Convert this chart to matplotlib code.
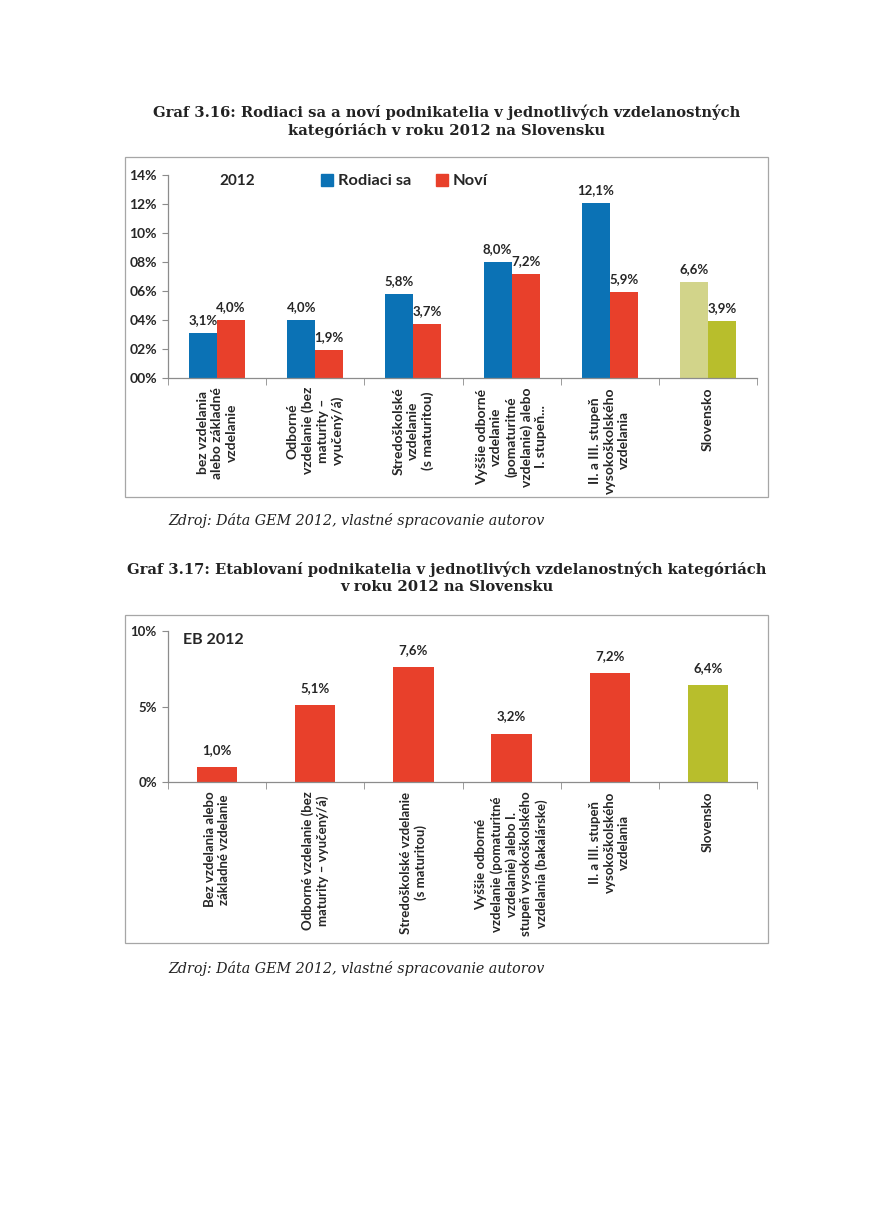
import matplotlib
matplotlib.use("Agg")
import matplotlib.pyplot as plt
from matplotlib.patches import Rectangle, Patch
import numpy as np

# === Dados ===
kategorie_1 = [
    "bez vzdelania\nalebo základné\nvzdelanie",
    "Odborné\nvzdelanie (bez\nmaturity –\nvyučený/á)",
    "Stredoškolské\nvzdelanie\n(s maturitou)",
    "Vyššie odborné\nvzdelanie\n(pomaturitné\nvzdelanie) alebo\nI. stupeň...",
    "II. a III. stupeň\nvysokoškolského\nvzdelania",
    "Slovensko",
]
rodiaci = [3.1, 4.0, 5.8, 8.0, 12.1, 6.6]
novi = [4.0, 1.9, 3.7, 7.2, 5.9, 3.9]
y_ticks_1 = [0, 2, 4, 6, 8, 10, 12, 14]
y_labels_1 = ["00%", "02%", "04%", "06%", "08%", "10%", "12%", "14%"]

kategorie_2 = [
    "Bez vzdelania alebo\nzákladné vzdelanie",
    "Odborné vzdelanie (bez\nmaturity – vyučený/á)",
    "Stredoškolské vzdelanie\n(s maturitou)",
    "Vyššie odborné\nvzdelanie (pomaturitné\nvzdelanie) alebo I.\nstupeň vysokoškolského\nvzdelania (bakalárske)",
    "II. a III. stupeň\nvysokoškolského\nvzdelania",
    "Slovensko",
]
etablovani = [1.0, 5.1, 7.6, 3.2, 7.2, 6.4]
y_ticks_2 = [0, 5, 10]
y_labels_2 = ["0%", "5%", "10%"]

# === Estilos ===
MODRA = "#0B72B5"
CERVENA = "#E8402B"
ZELENA_SV = "#D2D48A"
ZELENA_TM = "#B8BE2C"
OS = "#8C8C8C"
TEXT = "#262626"
SANS = "Lato"
SERIF = "DejaVu Serif"

W, H = 871, 1231
fig = plt.figure(figsize=(W / 100, H / 100), dpi=100)


def fx(px):
    return px / W


def fy(py):
    return 1 - py / H


def ram(x0, y0, x1, y1):
    fig.patches.append(Rectangle((fx(x0), fy(y1)), fx(x1 - x0), (y1 - y0) / H,
                                 transform=fig.transFigure, fill=False,
                                 ec="#A6A6A6", lw=0.9))


def styl_osi(ax, yt, yl, kategorie, xsize, ysize, pad):
    for s in ["top", "right"]:
        ax.spines[s].set_visible(False)
    for s in ["left", "bottom"]:
        ax.spines[s].set_color(OS)
        ax.spines[s].set_linewidth(0.9)
    ax.set_xlim(-0.5, len(kategorie) - 0.5)
    ax.set_yticks(yt)
    ax.set_yticklabels(yl, fontsize=ysize, fontweight="bold", color=TEXT, family=SANS)
    ax.tick_params(axis="y", length=4, color=OS, pad=4)
    ax.set_xticks(np.arange(len(kategorie)))
    ax.set_xticklabels(kategorie, rotation=90, ha="center", va="top",
                       multialignment="center", fontsize=xsize, fontweight="bold",
                       color=TEXT, family=SANS, linespacing=1.25)
    ax.tick_params(axis="x", length=0, pad=pad)
    ax.set_xticks(np.arange(len(kategorie) + 1) - 0.5, minor=True)
    ax.tick_params(axis="x", which="minor", length=5, color=OS)
    ax.set_facecolor("none")


# === Graf 3.16 ===
fig.text(fx(447), fy(112), "Graf 3.16: Rodiaci sa a noví podnikatelia v jednotlivých vzdelanostných",
         ha="center", va="center", fontsize=10.6, fontweight="bold", family=SERIF, color="#222222")
fig.text(fx(447), fy(130), "kategóriách v roku 2012 na Slovensku",
         ha="center", va="center", fontsize=10.6, fontweight="bold", family=SERIF, color="#222222")
ram(125, 157, 768, 497)

ax1 = fig.add_axes([fx(168), fy(378), fx(757 - 168), (378 - 175) / H])
x = np.arange(len(kategorie_1))
w = 0.285
farby_r = [MODRA] * 5 + [ZELENA_SV]
farby_n = [CERVENA] * 5 + [ZELENA_TM]
b1 = ax1.bar(x - w / 2, rodiaci, w, color=farby_r)
b2 = ax1.bar(x + w / 2, novi, w, color=farby_n)
ax1.set_ylim(0, 14)
styl_osi(ax1, y_ticks_1, y_labels_1, kategorie_1, 10, 10, 6.5)
for bars, vals in [(b1, rodiaci), (b2, novi)]:
    for b, v in zip(bars, vals):
        ax1.annotate(f"{v:.1f}%".replace(".", ","), (b.get_x() + b.get_width() / 2, v),
                     xytext=(0, 5), textcoords="offset points", ha="center", va="bottom",
                     fontsize=9.5, fontweight="bold", color=TEXT, family=SANS)

fig.text(fx(237), fy(181), "2012", ha="center", va="center", fontsize=11,
         fontweight="bold", color=TEXT, family=SANS)
handles = [Patch(color=MODRA, label="Rodiaci sa"), Patch(color=CERVENA, label="Noví")]
leg = fig.legend(handles=handles, loc="center left", bbox_to_anchor=(fx(306), fy(181)),
                 ncol=2, frameon=False, handlelength=0.75, handleheight=0.75,
                 handletextpad=0.3, columnspacing=1.5,
                 prop={"family": SANS, "size": 11.8, "weight": "bold"})
for t in leg.get_texts():
    t.set_color(TEXT)

fig.text(fx(168), fy(520), "Zdroj: Dáta GEM 2012, vlastné spracovanie autorov",
         ha="left", va="center", fontsize=10.3, style="italic", family=SERIF, color="#222222")

# === Graf 3.17 ===
fig.text(fx(447), fy(569), "Graf 3.17: Etablovaní podnikatelia v jednotlivých vzdelanostných kategóriách",
         ha="center", va="center", fontsize=10.6, fontweight="bold", family=SERIF, color="#222222")
fig.text(fx(447), fy(587), "v roku 2012 na Slovensku",
         ha="center", va="center", fontsize=10.6, fontweight="bold", family=SERIF, color="#222222")
ram(125, 615, 768, 943)

ax2 = fig.add_axes([fx(168), fy(782), fx(757 - 168), (782 - 631) / H])
x2 = np.arange(len(kategorie_2))
farby_e = [CERVENA] * 5 + [ZELENA_TM]
b3 = ax2.bar(x2, etablovani, 0.41, color=farby_e)
ax2.set_ylim(0, 10)
styl_osi(ax2, y_ticks_2, y_labels_2, kategorie_2, 9.5, 9.5, 7)
for b, v in zip(b3, etablovani):
    ax2.annotate(f"{v:.1f}%".replace(".", ","), (b.get_x() + b.get_width() / 2, v),
                 xytext=(0, 8), textcoords="offset points", ha="center", va="bottom",
                 fontsize=9.5, fontweight="bold", color=TEXT, family=SANS)
fig.text(fx(183), fy(640), "EB 2012", ha="left", va="center", fontsize=11.5,
         fontweight="bold", color=TEXT, family=SANS)

fig.text(fx(168), fy(969), "Zdroj: Dáta GEM 2012, vlastné spracovanie autorov",
         ha="left", va="center", fontsize=10.3, style="italic", family=SERIF, color="#222222")

fig.savefig("out.png", dpi=100, facecolor="white")
